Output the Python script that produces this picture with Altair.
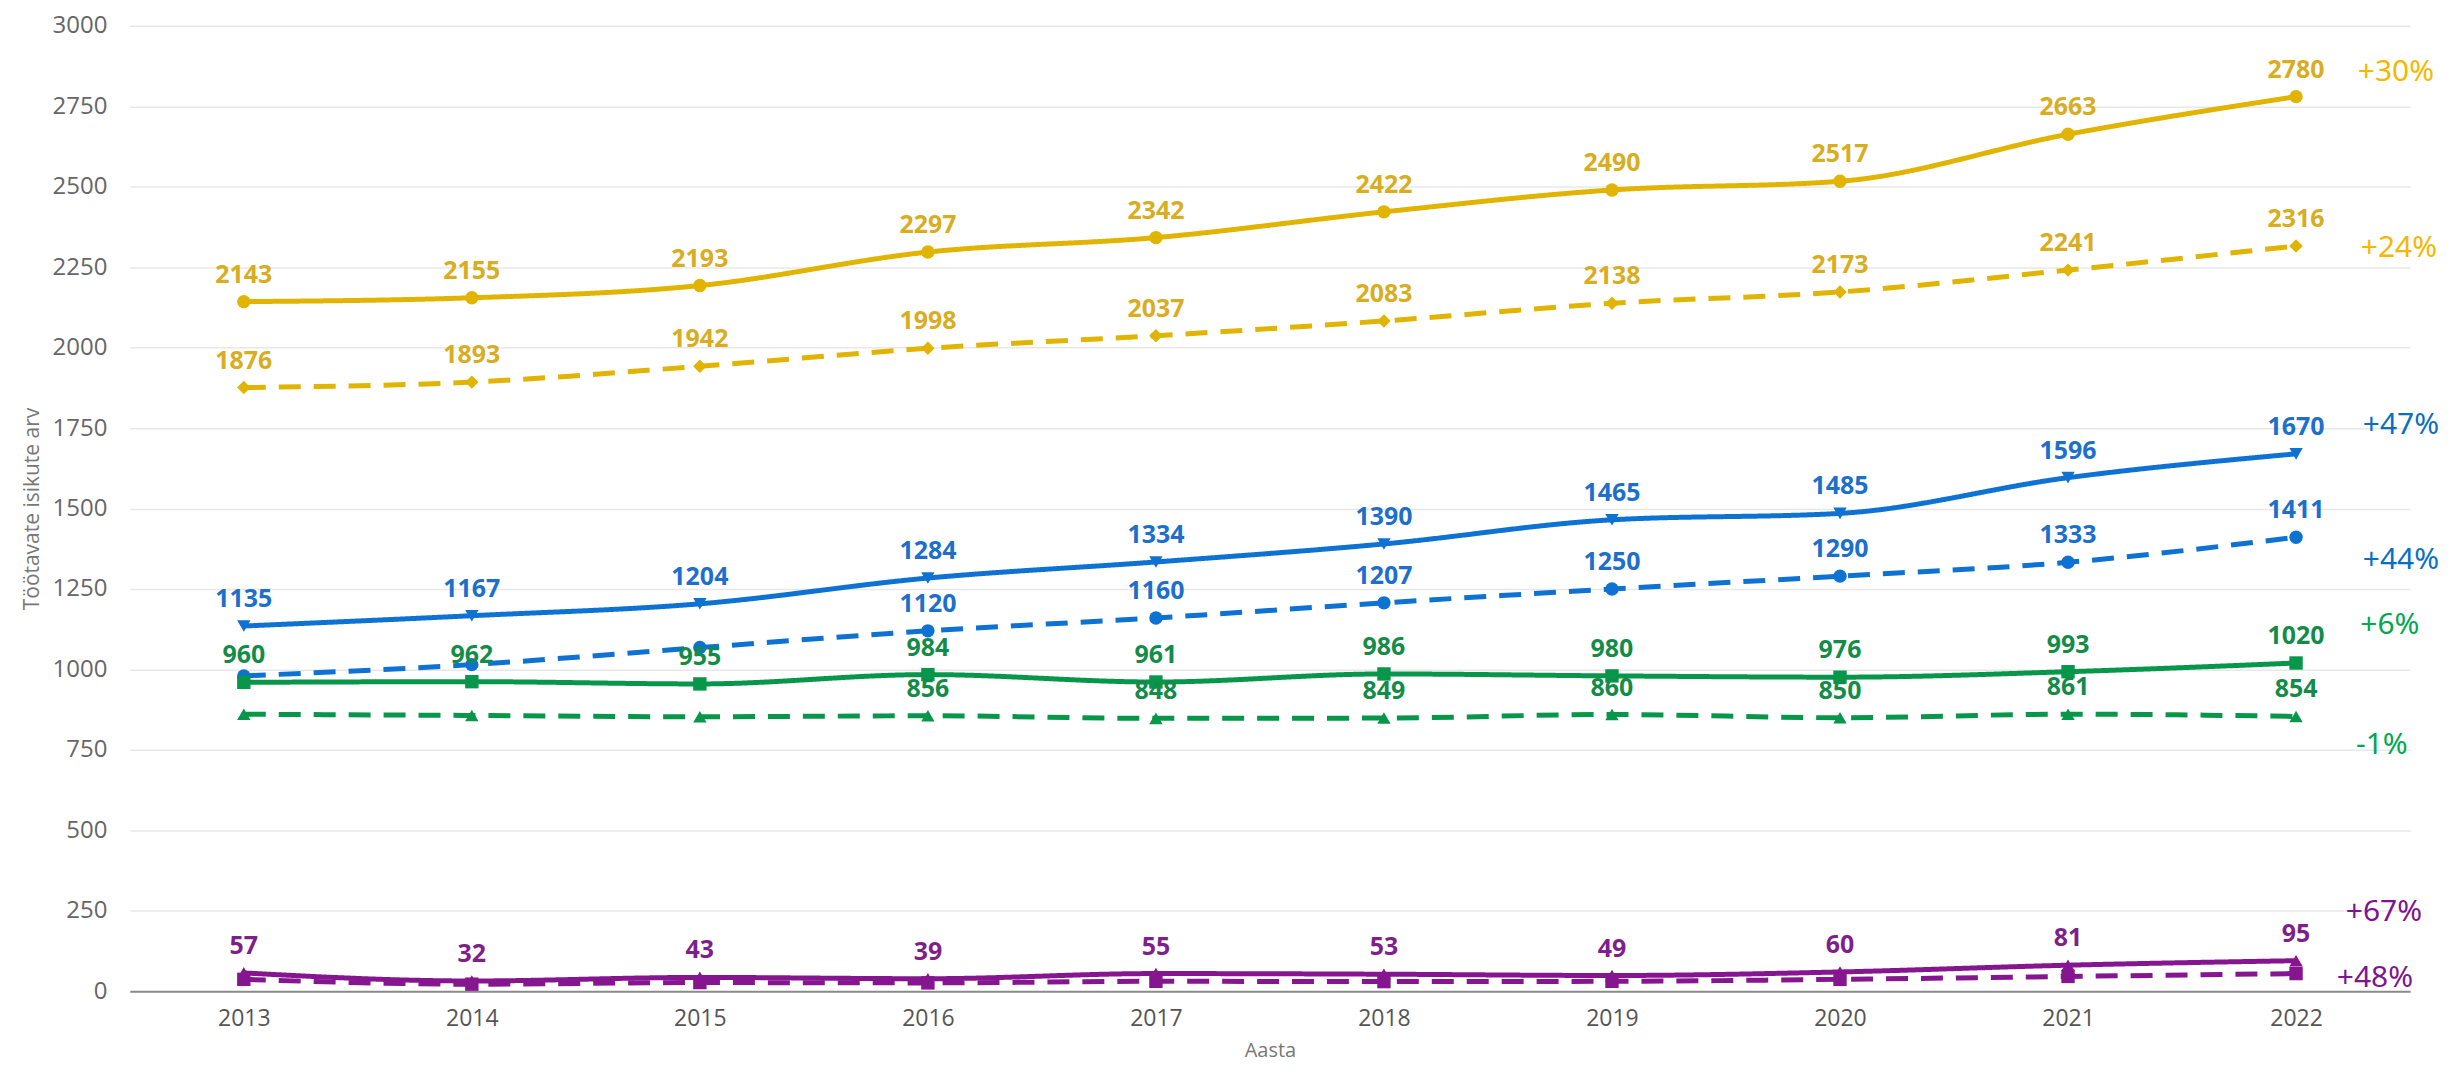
import altair as alt
import pandas as pd

# ---------------- data ----------------
years = [2013, 2014, 2015, 2016, 2017, 2018, 2019, 2020, 2021, 2022]

yellow_solid = [2143, 2155, 2193, 2297, 2342, 2422, 2490, 2517, 2663, 2780]
yellow_dashed = [1876, 1893, 1942, 1998, 2037, 2083, 2138, 2173, 2241, 2316]
blue_solid = [1135, 1167, 1204, 1284, 1334, 1390, 1465, 1485, 1596, 1670]
blue_dashed = [980, 1015, 1068, 1120, 1160, 1207, 1250, 1290, 1333, 1411]
green_solid = [960, 962, 955, 984, 961, 986, 980, 976, 993, 1020]
green_dashed = [861, 857, 853, 856, 848, 849, 860, 850, 861, 854]
purple_solid = [57, 32, 43, 39, 55, 53, 49, 60, 81, 95]
purple_dashed = [37, 22, 27, 26, 31, 30, 31, 37, 46, 55]

series_names = ["s1", "s2", "s3", "s4", "s5", "s6", "s7", "s8"]
series_values = [yellow_solid, yellow_dashed, blue_solid, blue_dashed,
                 green_solid, green_dashed, purple_solid, purple_dashed]
# first year whose value label is shown (None = no labels)
label_from = [2013, 2013, 2013, 2016, 2013, 2016, 2013, None]
pct_labels = ["+30%", "+24%", "+47%", "+44%", "+6%", "-1%", "+67%", "+48%"]

# ---------------- styles ----------------
styles = ["solid", "dashed", "solid", "dashed", "solid", "dashed", "solid", "dashed"]
shapes = ["circle", "diamond", "triangle-down", "circle", "square", "triangle-up",
          "triangle-up", "square"]
line_colors = ["#E0B400", "#E0B400", "#0E72D2", "#0E72D2",
               "#08964A", "#08964A", "#86168F", "#86168F"]
label_colors = ["#D8AD22", "#D8AD22", "#1C6FCB", "#1C6FCB",
                "#128C48", "#128C48", "#7E1F8C", "#7E1F8C"]
pct_colors = ["#F3B800", "#F3B800", "#0A6FC2", "#0A6FC2",
              "#00A850", "#00A850", "#7E1491", "#7E1491"]
pct_dx = [100, 103, 105, 105, 94, 86, 88, 79]
pct_dy = [-25, 2, -29, 23, -38, 29, -49, 4]

rows = []
for i, name in enumerate(series_names):
    for yr, v in zip(years, series_values[i]):
        show = label_from[i] is not None and yr >= label_from[i]
        rows.append({
            "series": name, "year": yr, "value": v,
            "style": styles[i],
            "label": str(v) if show else "",
            "lcolor": label_colors[i],
        })
df = pd.DataFrame(rows)

FONT = "Open Sans"

x_enc = alt.X("year:O", scale=alt.Scale(type="point", padding=0.5),
              axis=alt.Axis(title="Aasta", labelAngle=0, ticks=False, grid=False,
                            domainColor="#8a8a8a", domainWidth=2,
                            labelPadding=16, labelFontSize=23, labelColor="#555555",
                            labelFont=FONT, titleFont=FONT, titleFontSize=20,
                            titleFontWeight="normal", titleColor="#777777",
                            titlePadding=10))
y_enc = alt.Y("value:Q", scale=alt.Scale(domain=[0, 3000], nice=False),
              axis=alt.Axis(title="Töötavate isikute arv", format="d",
                            values=list(range(0, 3001, 250)),
                            domain=False, ticks=False, grid=True,
                            gridColor="#e8e8e8", gridWidth=1.5,
                            labelPadding=23, labelFontSize=24, labelColor="#666666",
                            labelFont=FONT, titleFont=FONT, titleFontSize=21,
                            titleFontWeight="normal", titleColor="#777777",
                            titlePadding=10))

color_enc = alt.Color("series:N", scale=alt.Scale(domain=series_names, range=line_colors),
                      legend=None)

base = alt.Chart(df)

lines = base.mark_line(interpolate="monotone", strokeWidth=5).encode(
    x=x_enc, y=y_enc, color=color_enc,
    strokeDash=alt.StrokeDash("style:N",
                              scale=alt.Scale(domain=["solid", "dashed"],
                                              range=[[1, 0], [22, 13]]),
                              legend=None),
    detail="series:N",
)

points = base.mark_point(filled=True, opacity=1, size=180).encode(
    x=x_enc, y=y_enc, color=color_enc,
    shape=alt.Shape("series:N", scale=alt.Scale(domain=series_names, range=shapes),
                    legend=None),
)

labels = base.transform_filter("datum.label != ''").mark_text(
    dy=-27, fontSize=25, fontWeight="bold", font=FONT, baseline="middle", align="center"
).encode(
    x=x_enc, y=y_enc, text="label:N",
    color=alt.Color("lcolor:N", scale=None),
)

layers = [lines, points, labels]
for i, name in enumerate(series_names):
    pdf = pd.DataFrame({"year": [years[-1]], "value": [series_values[i][-1]],
                        "txt": [pct_labels[i]]})
    layers.append(
        alt.Chart(pdf).mark_text(
            dx=pct_dx[i], dy=pct_dy[i], fontSize=30, font="Noto Sans",
            color=pct_colors[i], align="center", baseline="middle"
        ).encode(x=x_enc, y=y_enc, text="txt:N")
    )

chart = alt.layer(*layers).properties(
    width=2284, height=967,
    autosize=alt.AutoSizeParams(type="none"),
    padding={"left": 122, "top": 17, "right": 40, "bottom": 77},
).configure_view(stroke=None)

chart.save("out.html", embed_options={"renderer": "svg", "actions": False})
